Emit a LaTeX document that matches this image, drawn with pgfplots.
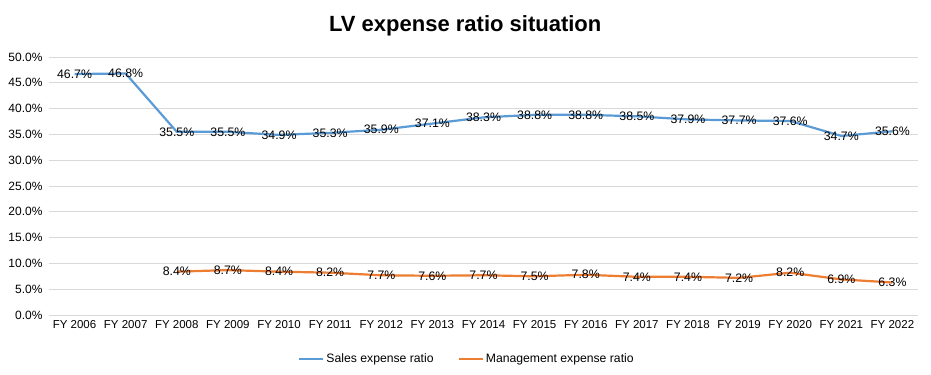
\documentclass[border=0pt]{standalone}
\usepackage{pgfplots}
\pgfplotsset{compat=1.18}
\usepackage{fontspec}
\setmainfont{Liberation Sans}
\definecolor{salesblue}{RGB}{91,155,213}
\definecolor{mgmtorange}{RGB}{237,125,49}
\definecolor{gridgray}{RGB}{217,217,217}
\begin{document}
\begin{tikzpicture}[x=1bp,y=1bp]
\useasboundingbox (-49bp,-60bp) rectangle (882bp,315bp);
\begin{axis}[
  at={(0,0)}, anchor=south west,
  scale only axis, width=869bp, height=258bp,
  xmin=-0.5, xmax=16.5, ymin=0, ymax=50,
  xtick={0,...,16},
  xticklabels={FY 2006,FY 2007,FY 2008,FY 2009,FY 2010,FY 2011,FY 2012,FY 2013,FY 2014,FY 2015,FY 2016,FY 2017,FY 2018,FY 2019,FY 2020,FY 2021,FY 2022},
  ytick={0,5,...,50},
  yticklabel={\pgfmathprintnumber[fixed,fixed zerofill,precision=1]{\tick}\%},
  /pgf/number format/assume math mode=true,
  xticklabel style={font=\fontsize{11.5bp}{13bp}\selectfont, yshift=-2bp},
  yticklabel style={font=\fontsize{12bp}{14bp}\selectfont, xshift=-3bp},
  major tick length=0pt,
  axis line style={draw=none},
  ymajorgrids, grid style={gridgray, line width=0.75bp},
  title={\bfseries LV expense ratio situation},
  title style={font=\fontsize{22bp}{24bp}\selectfont\bfseries, at={(0.479,1)}, yshift=11bp},
  clip=false,
  nodes near coords={\pgfmathprintnumber[fixed,fixed zerofill,precision=1]{\pgfplotspointmeta}\%},
  every node near coord/.append style={anchor=center, black, font=\fontsize{12.3bp}{14bp}\selectfont},
  legend style={at={(0.481,-0.135)}, anchor=north, draw=none, legend columns=2,
    font=\fontsize{12.2bp}{14bp}\selectfont, /tikz/every even column/.append style={column sep=22bp}},
  legend image code/.code={\draw[#1, line width=2.2bp] (0bp,0bp) -- (24bp,0bp);},
]
\addplot[salesblue, line width=2.2bp, mark=none] coordinates {
 (0,46.7) (1,46.8) (2,35.5) (3,35.5) (4,34.9) (5,35.3) (6,35.9) (7,37.1) (8,38.3)
 (9,38.8) (10,38.8) (11,38.5) (12,37.9) (13,37.7) (14,37.6) (15,34.7) (16,35.6)};
\addlegendentry{Sales expense ratio}
\addplot[mgmtorange, line width=2.2bp, mark=none] coordinates {
 (2,8.4) (3,8.7) (4,8.4) (5,8.2) (6,7.7) (7,7.6) (8,7.7) (9,7.5) (10,7.8)
 (11,7.4) (12,7.4) (13,7.2) (14,8.2) (15,6.9) (16,6.3)};
\addlegendentry{Management expense ratio}
\end{axis}
\end{tikzpicture}
\end{document}
